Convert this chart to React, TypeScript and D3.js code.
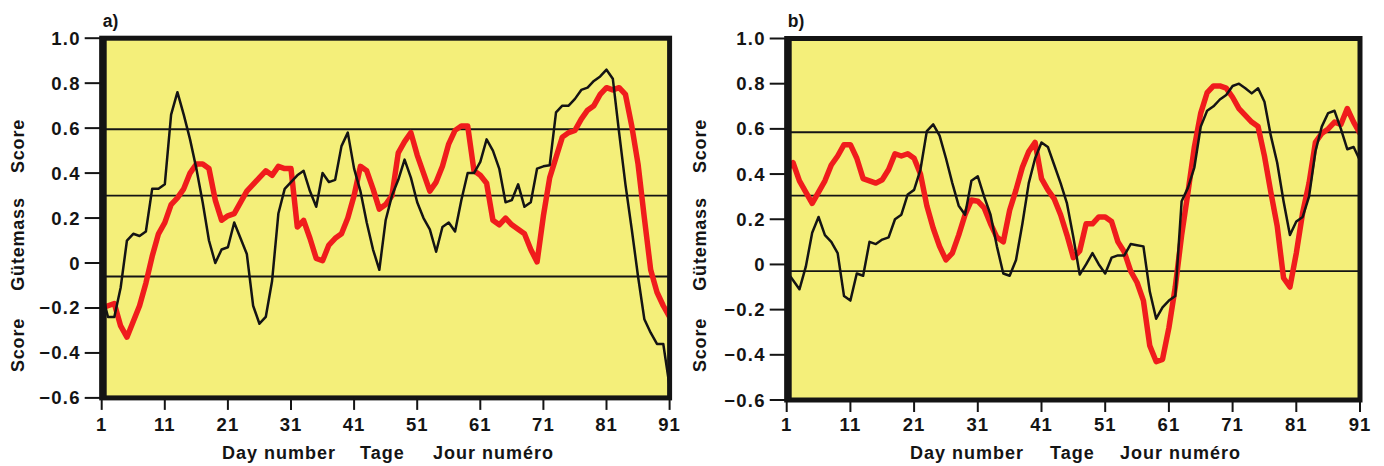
import React from 'react';
import * as d3 from 'd3';

// ---------- DATA ----------
const days = d3.range(1, 92);
const xTickDays = [1, 11, 21, 31, 41, 51, 61, 71, 81, 91];
const yTickValues = [1.0, 0.8, 0.6, 0.4, 0.2, 0, -0.2, -0.4, -0.6];
const yTickLabels = ['1.0', '0.8', '0.6', '0.4', '0.2', '0', '\u22120.2', '\u22120.4', '\u22120.6'];
const yTitles = ['Score', 'Gütemass', 'Score'];
const xTitles = ['Day number', 'Tage', 'Jour numéro'];
const panelLabels = ['a)', 'b)'];

const refLinesA = [0.595, 0.3, -0.06];
const refLinesB = [0.585, 0.305, -0.03];

const blackA = [
  -0.13, -0.24, -0.24, -0.11, 0.10, 0.13, 0.12, 0.14, 0.33, 0.33,
  0.35, 0.66, 0.76, 0.66, 0.55, 0.42, 0.27, 0.10, 0.00, 0.06,
  0.07, 0.18, 0.11, 0.04, -0.19, -0.27, -0.24, -0.08, 0.22, 0.33,
  0.36, 0.39, 0.41, 0.32, 0.25, 0.40, 0.36, 0.37, 0.52, 0.58,
  0.42, 0.32, 0.18, 0.06, -0.03, 0.19, 0.30, 0.37, 0.46, 0.38,
  0.27, 0.20, 0.15, 0.05, 0.16, 0.18, 0.14, 0.28, 0.40, 0.40,
  0.45, 0.55, 0.50, 0.42, 0.27, 0.28, 0.35, 0.25, 0.27, 0.42,
  0.43, 0.435, 0.67, 0.70, 0.70, 0.73, 0.77, 0.78, 0.81, 0.83,
  0.86, 0.82, 0.58, 0.35, 0.15, -0.06, -0.25, -0.31, -0.36, -0.36, -0.55,
];
const redA = [
  -0.20, -0.19, -0.18, -0.28, -0.33, -0.26, -0.19, -0.09, 0.03, 0.13,
  0.18, 0.26, 0.29, 0.33, 0.40, 0.44, 0.44, 0.42, 0.28, 0.19,
  0.21, 0.22, 0.27, 0.32, 0.35, 0.38, 0.41, 0.39, 0.43, 0.42,
  0.42, 0.16, 0.19, 0.11, 0.02, 0.01, 0.08, 0.11, 0.13, 0.20,
  0.30, 0.43, 0.41, 0.33, 0.24, 0.26, 0.30, 0.49, 0.54, 0.58,
  0.48, 0.40, 0.32, 0.36, 0.43, 0.53, 0.59, 0.61, 0.61, 0.41,
  0.39, 0.355, 0.19, 0.17, 0.20, 0.17, 0.15, 0.13, 0.06, 0.005,
  0.21, 0.38, 0.47, 0.56, 0.58, 0.59, 0.64, 0.68, 0.70, 0.75,
  0.78, 0.77, 0.78, 0.75, 0.61, 0.44, 0.20, -0.03, -0.13, -0.19, -0.24,
];
const blackB = [
  -0.03, -0.07, -0.11, -0.01, 0.14, 0.21, 0.13, 0.10, 0.05, -0.14,
  -0.16, -0.04, -0.05, 0.10, 0.09, 0.11, 0.12, 0.20, 0.22, 0.31,
  0.33, 0.42, 0.59, 0.62, 0.57, 0.47, 0.36, 0.26, 0.22, 0.37,
  0.39, 0.30, 0.22, 0.08, -0.04, -0.05, 0.02, 0.18, 0.36, 0.47,
  0.54, 0.52, 0.44, 0.36, 0.27, 0.12, -0.045, 0.00, 0.05, 0.00,
  -0.04, 0.03, 0.04, 0.04, 0.09, 0.085, 0.08, -0.12, -0.24, -0.19,
  -0.16, -0.14, 0.28, 0.34, 0.43, 0.61, 0.68, 0.70, 0.73, 0.75,
  0.79, 0.80, 0.78, 0.757, 0.78, 0.72, 0.57, 0.45, 0.28, 0.13,
  0.19, 0.21, 0.30, 0.50, 0.61, 0.67, 0.68, 0.60, 0.51, 0.52, 0.46,
];
const redB = [
  0.42, 0.45, 0.37, 0.32, 0.27, 0.32, 0.37, 0.44, 0.48, 0.53,
  0.53, 0.47, 0.38, 0.37, 0.36, 0.375, 0.42, 0.49, 0.48, 0.49,
  0.47, 0.40, 0.26, 0.16, 0.08, 0.02, 0.05, 0.13, 0.22, 0.285,
  0.28, 0.25, 0.18, 0.12, 0.10, 0.24, 0.33, 0.43, 0.50, 0.54,
  0.38, 0.33, 0.29, 0.22, 0.13, 0.03, 0.06, 0.18, 0.18, 0.21,
  0.21, 0.19, 0.10, 0.055, -0.03, -0.08, -0.16, -0.36, -0.43, -0.42,
  -0.28, -0.10, 0.13, 0.32, 0.52, 0.67, 0.76, 0.79, 0.79, 0.78,
  0.74, 0.69, 0.66, 0.63, 0.61, 0.48, 0.32, 0.17, -0.06, -0.10,
  0.05, 0.23, 0.36, 0.54, 0.58, 0.60, 0.63, 0.62, 0.69, 0.63, 0.58,
];

// ---------- STYLE / LAYOUT ----------
const FONT = '"Liberation Sans", Arial, Helvetica, sans-serif';
const YELLOW = '#f4ef7a';
const RED = '#f01c1c';
const INK = '#141414';

type PanelCfg = {
  label: string;
  x0: number; x1: number; yTop: number; yBot: number;
  yTitleX: number;
  xTitleStarts: number[];
  black: number[]; red: number[]; refs: number[];
};

const panels: PanelCfg[] = [
  {
    label: panelLabels[0], x0: 101.7, x1: 669.6, yTop: 38.2, yBot: 397.9,
    yTitleX: 24, xTitleStarts: [222, 360, 433],
    black: blackA, red: redA, refs: refLinesA,
  },
  {
    label: panelLabels[1], x0: 786.7, x1: 1360, yTop: 38.5, yBot: 400,
    yTitleX: 706, xTitleStarts: [910, 1050, 1120],
    black: blackB, red: redB, refs: refLinesB,
  },
];

const yTitleCenters = [146, 244, 345];

function Panel({ p, idx }: { p: PanelCfg; idx: number }) {
  const x = d3.scaleLinear().domain([1, 91]).range([p.x0, p.x1]);
  const y = d3.scaleLinear().domain([-0.6, 1.0]).range([p.yBot, p.yTop]);
  const line = d3.line<number>().x((_, i) => x(days[i])).y((v) => y(v)).curve(d3.curveLinear);
  const clipId = `clip-${idx}`;
  return (
    <g>
      <defs>
        <clipPath id={clipId}>
          <rect x={p.x0} y={p.yTop} width={p.x1 - p.x0} height={p.yBot - p.yTop} />
        </clipPath>
      </defs>
      <rect x={p.x0} y={p.yTop} width={p.x1 - p.x0} height={p.yBot - p.yTop} fill={YELLOW} />
      <g clipPath={`url(#${clipId})`}>
        {p.refs.map((r, i) => (
          <line key={i} x1={p.x0} x2={p.x1} y1={y(r)} y2={y(r)} stroke={INK} strokeWidth={1.8} />
        ))}
        <path d={line(p.red) || ''} fill="none" stroke={RED} strokeWidth={5.5} strokeLinejoin="round" strokeLinecap="round" />
        <path d={line(p.black) || ''} fill="none" stroke={INK} strokeWidth={2.5} strokeLinejoin="round" />
      </g>
      <rect x={p.x0} y={p.yTop} width={p.x1 - p.x0} height={p.yBot - p.yTop} fill="none" stroke={INK} strokeWidth={5} />
      <line x1={p.x0 + 1.5} x2={p.x0 + 1.5} y1={p.yTop} y2={p.yBot} stroke={INK} strokeWidth={7} />
      {yTickValues.map((v, i) => (
        <g key={i}>
          <line x1={p.x0 - 17} x2={p.x0} y1={y(v)} y2={y(v)} stroke={INK} strokeWidth={2} />
          <text x={p.x0 - 21} y={y(v) + 6.5} textAnchor="end" fontFamily={FONT} fontWeight="bold" fontSize={18.5} letterSpacing={1.2} fill={INK}>
            {yTickLabels[i]}
          </text>
        </g>
      ))}
      {xTickDays.map((d) => (
        <g key={d}>
          <line x1={x(d)} x2={x(d)} y1={p.yBot} y2={p.yBot + 12} stroke={INK} strokeWidth={2} />
          <text x={x(d)} y={431} textAnchor="middle" fontFamily={FONT} fontWeight="bold" fontSize={18.5} letterSpacing={1} fill={INK}>
            {d}
          </text>
        </g>
      ))}
      {xTitles.map((t, i) => (
        <text key={t} x={p.xTitleStarts[i]} y={459} fontFamily={FONT} fontWeight="bold" fontSize={18} letterSpacing={1} fill={INK}>
          {t}
        </text>
      ))}
      {yTitles.map((t, i) => (
        <text key={i} transform={`translate(${p.yTitleX},${yTitleCenters[i]}) rotate(-90)`} textAnchor="middle" fontFamily={FONT} fontWeight="bold" fontSize={18} letterSpacing={0.8} fill={INK}>
          {t}
        </text>
      ))}
      <text x={p.x0 + 1} y={27} fontFamily={FONT} fontWeight="bold" fontSize={17.5} fill={INK}>
        {p.label}
      </text>
    </g>
  );
}

export default function App() {
  return (
    <svg width={1384} height={466} style={{ position: 'absolute', left: 0, top: 0, background: '#ffffff' }}>
      <rect x={0} y={0} width={1384} height={466} fill="#ffffff" />
      {panels.map((p, i) => (
        <Panel key={i} p={p} idx={i} />
      ))}
    </svg>
  );
}
